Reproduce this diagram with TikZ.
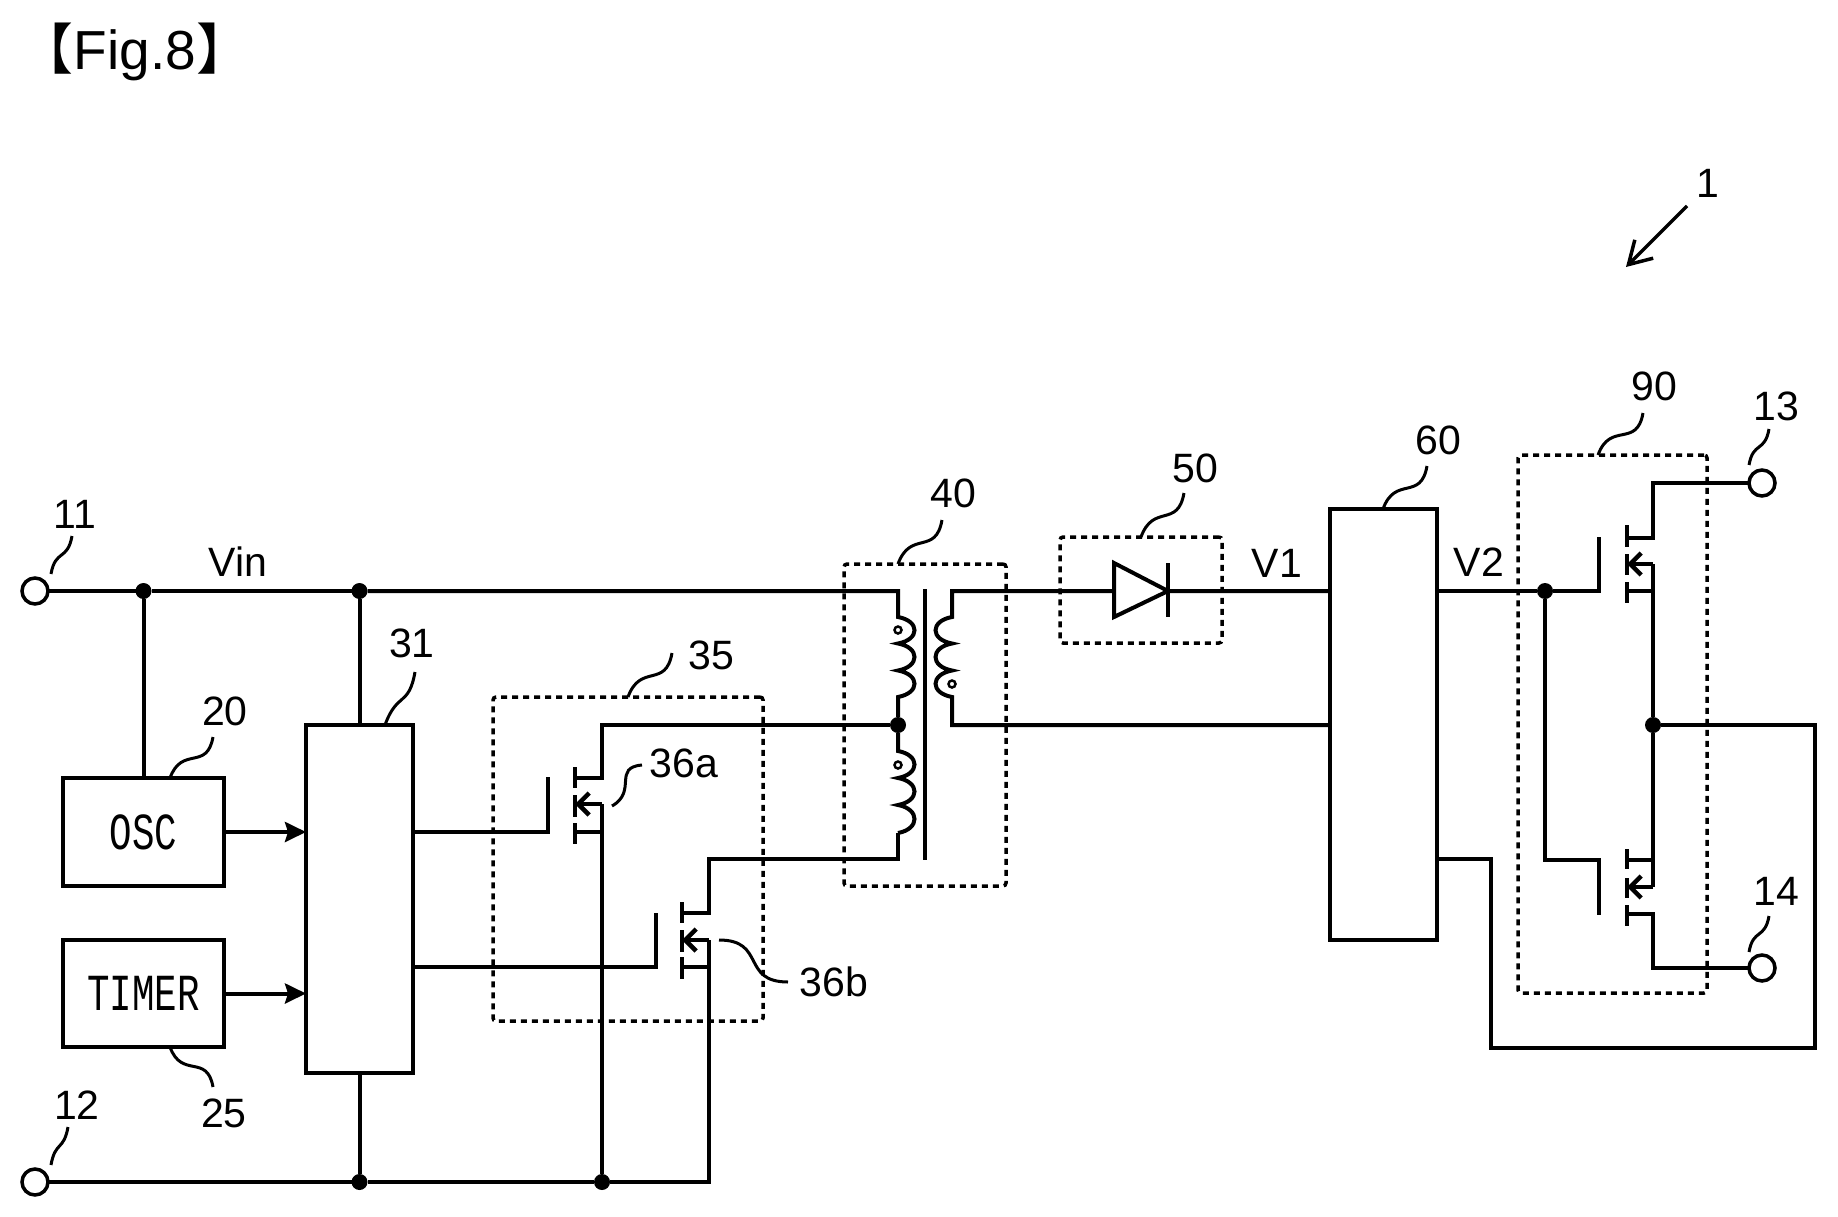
\documentclass[tikz,border=0pt]{standalone}
\usepackage{fontspec}
\setmainfont{Liberation Sans}
\setmonofont{Liberation Mono}
\newfontfamily\cjkfont{Noto Sans CJK JP}
\usetikzlibrary{arrows.meta}

\begin{document}
\begin{tikzpicture}[x=1pt, y=-1pt,
	wire/.style={draw=black, line width=4pt, line join=miter},
	arr/.style={wire, -{Stealth[length=21pt, width=20pt, inset=3pt]}},
	bar/.style={draw=black, line width=4.5pt},
	barb/.style={wire, -{Straight Barb[length=11pt, width=22pt, line width=4.5pt]}},
	leader/.style={draw=black, line width=3pt, looseness=1.5},
	block/.style={draw=black, line width=4.5pt, inner sep=0pt, outer sep=0pt,
		font=\ttfamily\fontsize{52}{56}\selectfont},
	dashbox/.style={draw=black, line width=3.5pt, dash pattern=on 6pt off 5pt,
		rounded corners=3pt, inner sep=0pt, outer sep=0pt},
	terminal/.style={circle, draw=black, fill=white, line width=3.5pt,
		minimum size=26pt, inner sep=0pt, outer sep=0pt},
	junction/.style={circle, fill=black, minimum size=16pt, inner sep=0pt, outer sep=0pt},
	dotmark/.style={circle, draw=black, fill=white, line width=2.5pt,
		minimum size=7pt, inner sep=0pt},
	lbl/.style={inner sep=0pt, font=\fontsize{41}{44}\selectfont}]

	\useasboundingbox (0,0) rectangle (1838,1217);

	\node [lbl, font=\fontsize{55}{58}\selectfont] (title) at (135,52)
		{{\cjkfont 【}Fig.8{\cjkfont 】}};

	% terminals and junctions
	\node [terminal] (term11) at (35,591) {};
	\node [terminal] (term12) at (35,1182) {};
	\node [terminal] (term13) at (1762,483) {};
	\node [terminal] (term14) at (1762,968) {};
	\node [junction] (jvin) at (143.5,591) {};
	\node [junction] (jctrl) at (359.5,591) {};
	\node [junction] (jgnd) at (359.5,1182) {};
	\node [junction] (jsrc) at (602,1182) {};
	\node [junction] (jcoil) at (898,725) {};
	\node [junction] (jgate) at (1545,591) {};
	\node [junction] (jmid) at (1653,725) {};

	% blocks
	\node [block, minimum width=161pt, minimum height=108pt] (osc) at (143.5,832) {\scalebox{.72}[1]{OSC}};
	\node [block, minimum width=161pt, minimum height=107pt] (timer) at (143.5,993.5) {\scalebox{.72}[1]{TIMER}};
	\node [block, minimum width=107pt, minimum height=348pt] (ctrl) at (359.5,899) {};
	\node [block, minimum width=107pt, minimum height=431pt] (conv) at (1383.5,724.5) {};

	% dashed groups
	\node [dashbox, minimum width=270pt, minimum height=324pt] (rect35) at (628,859) {};
	\node [dashbox, minimum width=162pt, minimum height=322pt] (rect40) at (925,725) {};
	\node [dashbox, minimum width=162pt, minimum height=106pt] (rect50) at (1141,590) {};
	\node [dashbox, minimum width=189pt, minimum height=538pt] (rect90) at (1612.5,724) {};

	% channel centres of the four transistors
	\coordinate (fa) at (575,804);
	\coordinate (fb) at (682,940);
	\coordinate (fc) at (1627,564);
	\coordinate (fd) at (1627,887);

	\draw [bar] (fa) +(0,-37) -- +(0,-16);
	\draw [bar] (fa) +(0,-9) -- +(0,13);
	\draw [bar] (fa) +(0,19) -- +(0,40);
	\draw [bar] (fb) +(0,-38) -- +(0,-17);
	\draw [bar] (fb) +(0,-10) -- +(0,12);
	\draw [bar] (fb) +(0,17) -- +(0,39);
	\draw [bar] (fc) +(0,-39) -- +(0,-17);
	\draw [bar] (fc) +(0,-10) -- +(0,11);
	\draw [bar] (fc) +(0,18) -- +(0,39);
	\draw [bar] (fd) +(0,-38) -- +(0,-18);
	\draw [bar] (fd) +(0,-9) -- +(0,11);
	\draw [bar] (fd) +(0,18) -- +(0,39);

	\draw [barb] (fa) +(27,0) -- +(0,0);
	\draw [barb] (fb) +(27,0) -- +(0,0);
	\draw [barb] (fc) +(26,0) -- +(0,0);
	\draw [barb] (fd) +(26,0) -- +(0,0);

	% power rails
	\draw [wire] (term11) -- (jvin);
	\draw [wire] (jvin) -- (jctrl);
	\draw [wire] (jvin) -- (osc);
	\draw [wire] (jctrl) -- (ctrl);
	\draw [wire] (ctrl) -- (jgnd);
	\draw [wire] (term12) -- (jgnd);
	\draw [wire] (jgnd) -- (jsrc);
	\draw [arr] (osc) -- (osc -| ctrl.west);
	\draw [arr] (timer) -- (timer -| ctrl.west);

	% first switch
	\draw [wire] (ctrl.east |- 0,832) -- (548,832) -- (548,777);
	\draw [wire] (fa) ++(0,-26) -- (602,778) -- (602,725) -- (jcoil);
	\draw [wire] (fa) ++(0,28) -- (602,832);
	\draw [wire] (602,804) -- (jsrc);

	% second switch
	\draw [wire] (ctrl.east |- 0,967) -- (656,967) -- (656,913);
	\draw [wire] (fb) ++(0,-27) -- (709,913) -- (709,859) -- (898,859) -- (898,833);
	\draw [wire] (fb) ++(0,27) -- (709,967);
	\draw [wire] (709,940) -- (709,1182) -- (jsrc);

	% transformer
	\draw [bar] (925,589) -- (925,860);
	\draw [wire] (jctrl) -- (898,591) -- (898,617)
		.. controls +(22,4) and +(22,-4) .. ++(0,26.5)
		.. controls +(22,4) and +(22,-4) .. ++(0,27)
		.. controls +(22,4) and +(22,-4) .. ++(0,26.5) -- (jcoil);
	\draw [wire] (jcoil) -- (898,751)
		.. controls +(22,4) and +(22,-4) .. ++(0,27)
		.. controls +(22,4) and +(22,-4) .. ++(0,27)
		.. controls +(22,4) and +(22,-4) .. ++(0,28);
	\draw [wire] (conv.west |- 0,591) -- (952,591) -- (952,617)
		.. controls +(-22,4) and +(-22,-4) .. ++(0,26.5)
		.. controls +(-22,4) and +(-22,-4) .. ++(0,27)
		.. controls +(-22,4) and +(-22,-4) .. ++(0,26.5)
		-- (952,725) -- (conv.west |- 0,725);
	\node [dotmark] (dota) at (898,630) {};
	\node [dotmark] (dotb) at (898,765) {};
	\node [dotmark] (dotc) at (952,684) {};

	% diode
	\draw [wire, fill=white] (1114,563) -- (1168,591) -- (1114,617) -- cycle;
	\draw [bar] (1168,563) -- (1168,617);

	% output switches
	\draw [wire] (conv.east |- jgate) -- (jgate);
	\draw [wire] (jgate) -- (1599,591) -- (1599,537);
	\draw [wire] (jgate) -- (1545,860) -- (1599,860) -- (1599,915);
	\draw [wire] (fc) ++(0,-26) -- (1653,538) -- (1653,483) -- (term13);
	\draw [wire] (fc) ++(0,27) -- (1653,591);
	\draw [wire] (1653,564) -- (jmid);
	\draw [wire] (jmid) -- (1653,887);
	\draw [wire] (fd) ++(0,-27) -- (1653,860);
	\draw [wire] (fd) ++(0,27) -- (1653,914) -- (1653,968) -- (term14);
	\draw [wire] (jmid) -- (1815,725) -- (1815,1048) -- (1491,1048) -- (1491,859) -- (conv.east |- 0,859);

	% reference numerals
	\node [lbl] (l11) at (75,514) {11};
	\node [lbl] (l12) at (77,1105) {12};
	\node [lbl] (l13) at (1776,406) {13};
	\node [lbl] (l14) at (1776,891) {14};
	\node [lbl] (l20) at (225,711) {20};
	\node [lbl] (l25) at (224,1113) {25};
	\node [lbl] (l31) at (412,643) {31};
	\node [lbl] (l35) at (711,655) {35};
	\node [lbl] (l36a) at (684,763) {36a};
	\node [lbl] (l36b) at (834,982) {36b};
	\node [lbl] (l40) at (953,493) {40};
	\node [lbl] (l50) at (1195,468) {50};
	\node [lbl] (l60) at (1438,440) {60};
	\node [lbl] (l90) at (1654,386) {90};
	\node [lbl] (lone) at (1708,183) {1};
	\node [lbl] (vin) at (238,562) {Vin};
	\node [lbl] (vone) at (1277,563) {V1};
	\node [lbl] (vtwo) at (1479,562) {V2};

	% leader lines
	\coordinate (s11) at (51,574);
	\coordinate (s12) at (51,1165);
	\coordinate (s13) at (1749,465);
	\coordinate (s14) at (1749,952);
	\draw [leader] (s11) to [out=80, in=-100] (72,536);
	\draw [leader] (s12) to [out=80, in=-100] (68,1127);
	\draw [leader] (s13) to [out=80, in=-100] (1769,429);
	\draw [leader] (s14) to [out=80, in=-100] (1769,916);
	\draw [leader] (osc.north -| 170,0) to [out=70, in=-100] (213,737);
	\draw [leader] (timer.south -| 170,0) to [out=-70, in=100] (213,1087);
	\draw [leader] (ctrl.north -| 385,0) to [out=70, in=-100] (415,672);
	\draw [leader] (rect35.north -| 628,0) to [out=70, in=-100] (672,653);
	\draw [leader] (612,806) to [out=30, in=185] (642,765);
	\draw [leader] (719,940) to [out=0, in=180] (788,982);
	\draw [leader] (rect40.north -| 898,0) to [out=70, in=-100] (942,520);
	\draw [leader] (rect50.north -| 1141,0) to [out=70, in=-100] (1184,493);
	\draw [leader] (conv.north -| 1383,0) to [out=70, in=-100] (1427,466);
	\draw [leader] (rect90.north -| 1598,0) to [out=70, in=-100] (1643,413);

	% device arrow
	\coordinate (devtail) at (1687,206);
	\coordinate (devtip) at (1626,267);
	\draw [draw=black, line width=3.5pt, -{Straight Barb[length=22pt, width=26pt, line width=3.5pt]}] (devtail) -- (devtip);
\end{tikzpicture}
\end{document}
